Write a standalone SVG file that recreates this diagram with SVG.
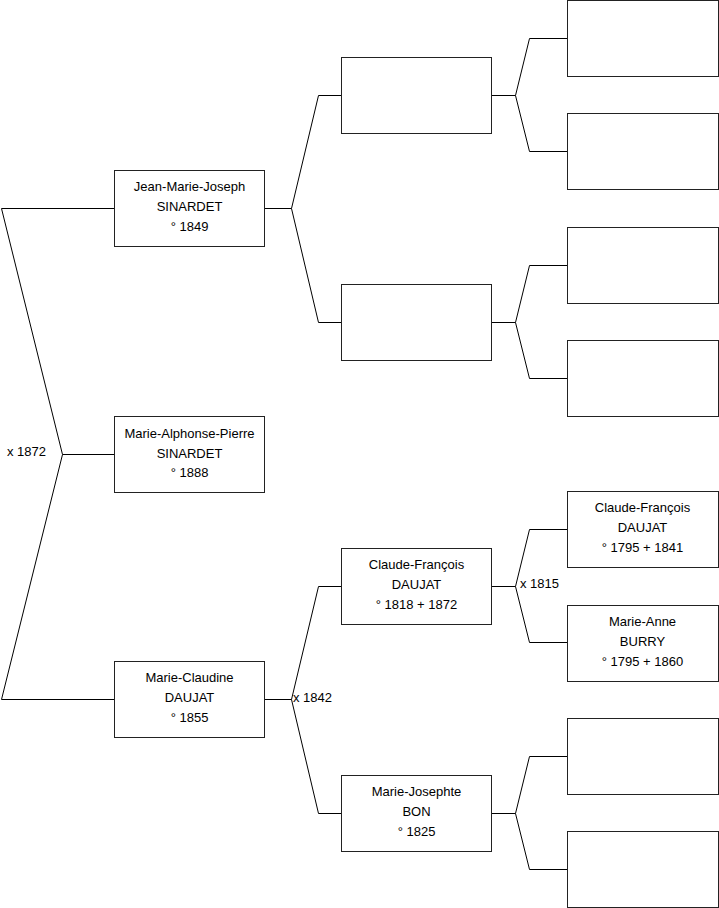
<svg xmlns="http://www.w3.org/2000/svg" width="719" height="908" viewBox="0 0 719 908">
<style>
.box{fill:#fff;stroke:#222;stroke-width:1}
.c{fill:none;stroke:#000;stroke-width:1}
text{font-family:"Liberation Sans",Arial,sans-serif;font-size:13px;fill:#000}
.m{text-anchor:middle}
</style>
<rect width="719" height="908" fill="#fff"/>
<g id="connectors">
<polyline class="c" points="114,208.5 1.5,208.5 62.5,454.5 1.5,699.5 114,699.5"/>
<line class="c" x1="62.5" y1="454.5" x2="114" y2="454.5"/>
<polyline class="c" points="341,95.5 318.5,95.5 291.5,208.5 318.5,322.5 341,322.5"/>
<line class="c" x1="265" y1="208.5" x2="291.5" y2="208.5"/>
<polyline class="c" points="341,586.5 318.5,586.5 291.5,699.5 318.5,813.5 341,813.5"/>
<line class="c" x1="265" y1="699.5" x2="291.5" y2="699.5"/>
<polyline class="c" points="567,38.5 529.5,38.5 515.5,95.5 529.5,151.5 567,151.5"/>
<line class="c" x1="492" y1="95.5" x2="515.5" y2="95.5"/>
<polyline class="c" points="567,265.5 529.5,265.5 515.5,322.5 529.5,378.5 567,378.5"/>
<line class="c" x1="492" y1="322.5" x2="515.5" y2="322.5"/>
<polyline class="c" points="567,529.5 529.5,529.5 515.5,586.5 529.5,642.5 567,642.5"/>
<line class="c" x1="492" y1="586.5" x2="515.5" y2="586.5"/>
<polyline class="c" points="567,756.5 529.5,756.5 515.5,813.5 529.5,869.5 567,869.5"/>
<line class="c" x1="492" y1="813.5" x2="515.5" y2="813.5"/>
<text x="7" y="456">x 1872</text>
<text x="293" y="702">x 1842</text>
<text x="520" y="588">x 1815</text>
</g>
<g id="n1"><rect class="box" x="114.5" y="170.5" width="150" height="76"/>
<text class="m" x="189.5" y="191">Jean-Marie-Joseph</text><text class="m" x="189.5" y="211">SINARDET</text><text class="m" x="189.5" y="231">° 1849</text></g>
<g id="n2"><rect class="box" x="114.5" y="416.5" width="150" height="76"/>
<text class="m" x="189.5" y="438">Marie-Alphonse-Pierre</text><text class="m" x="189.5" y="458">SINARDET</text><text class="m" x="189.5" y="477">° 1888</text></g>
<g id="n3"><rect class="box" x="114.5" y="661.5" width="150" height="76"/>
<text class="m" x="189.5" y="682">Marie-Claudine</text><text class="m" x="189.5" y="702">DAUJAT</text><text class="m" x="189.5" y="722">° 1855</text></g>
<g id="n4"><rect class="box" x="341.5" y="57.5" width="150" height="76"/></g>
<g id="n5"><rect class="box" x="341.5" y="284.5" width="150" height="76"/></g>
<g id="n6"><rect class="box" x="341.5" y="548.5" width="150" height="76"/>
<text class="m" x="416.5" y="569">Claude-François</text><text class="m" x="416.5" y="589">DAUJAT</text><text class="m" x="416.5" y="609">° 1818 + 1872</text></g>
<g id="n7"><rect class="box" x="341.5" y="775.5" width="150" height="76"/>
<text class="m" x="416.5" y="796">Marie-Josephte</text><text class="m" x="416.5" y="816">BON</text><text class="m" x="416.5" y="836">° 1825</text></g>
<g id="n8"><rect class="box" x="567.5" y="0.5" width="151" height="76"/></g>
<g id="n9"><rect class="box" x="567.5" y="113.5" width="151" height="76"/></g>
<g id="n10"><rect class="box" x="567.5" y="227.5" width="151" height="76"/></g>
<g id="n11"><rect class="box" x="567.5" y="340.5" width="151" height="76"/></g>
<g id="n12"><rect class="box" x="567.5" y="491.5" width="151" height="76"/>
<text class="m" x="642.5" y="512">Claude-François</text><text class="m" x="642.5" y="532">DAUJAT</text><text class="m" x="642.5" y="552">° 1795 + 1841</text></g>
<g id="n13"><rect class="box" x="567.5" y="605.5" width="151" height="76"/>
<text class="m" x="642.5" y="626">Marie-Anne</text><text class="m" x="642.5" y="646">BURRY</text><text class="m" x="642.5" y="666">° 1795 + 1860</text></g>
<g id="n14"><rect class="box" x="567.5" y="718.5" width="151" height="76"/></g>
<g id="n15"><rect class="box" x="567.5" y="831.5" width="151" height="76"/></g>
</svg>
